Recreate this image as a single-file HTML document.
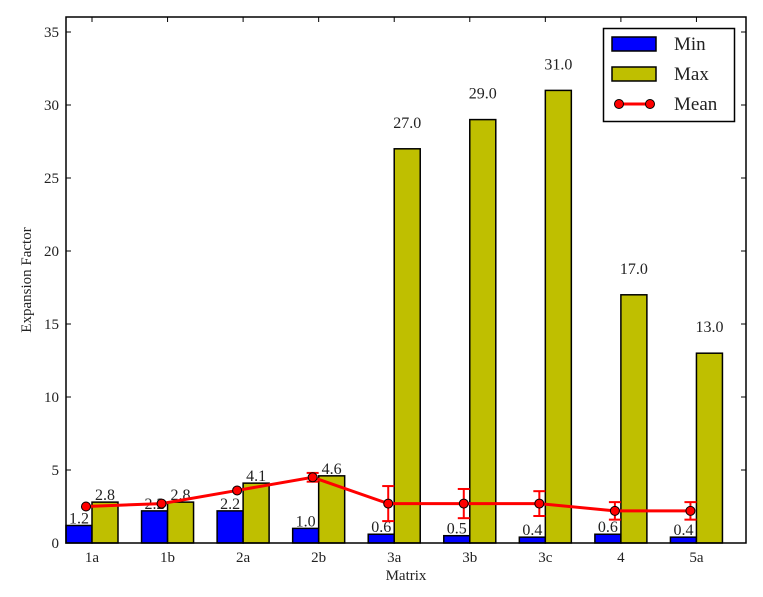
<!DOCTYPE html>
<html><head><meta charset="utf-8"><style>
body{margin:0;background:#fff}
svg text{font-family:"Liberation Serif",serif;fill:#222}
</style></head><body>
<svg id="chart" width="763" height="592" xmlns="http://www.w3.org/2000/svg"></svg>
<script>
const categories=["1a","1b","2a","2b","3a","3b","3c","4","5a"];
const minVals=[1.2,2.2,2.2,1.0,0.6,0.5,0.4,0.6,0.4];
const maxVals=[2.8,2.8,4.1,4.6,27.0,29.0,31.0,17.0,13.0];
const meanVals=[2.5,2.7,3.6,4.5,2.7,2.7,2.7,2.2,2.2];
const meanErr=[0,0,0,0.3,1.2,1.0,0.85,0.6,0.6];
const yTicks=[0,5,10,15,20,25,30,35];

const NS="http://www.w3.org/2000/svg";
const svg=document.getElementById('chart');
const L=66,R=746,T=17,B=543;
const gw=(R-L)/categories.length, bw=26;
const y=v=>B-v*(B-32)/35;
const gx=i=>L+i*gw;
function el(t,a,p){const e=document.createElementNS(NS,t);for(const k in a)e.setAttribute(k,a[k]);(p||svg).appendChild(e);return e;}

const g=el('g',{});


categories.forEach((c,i)=>{
  const x0=gx(i);
  const b1=el('rect',{x:x0,y:y(minVals[i]),width:bw,height:B-y(minVals[i]),fill:'#0000ff',stroke:'#000','stroke-width':1.5},g);
  
  
  const b2=el('rect',{x:x0+bw,y:y(maxVals[i]),width:bw,height:B-y(maxVals[i]),fill:'#bfbf00',stroke:'#000','stroke-width':1.5},g);
  
  
  const t1=el('text',{x:x0+bw/2,y:y(minVals[i])-2,'text-anchor':'middle','font-size':16},g);
  t1.textContent=minVals[i].toFixed(1);
  
  
  const big=maxVals[i]>10;
  const t2=el('text',{x:x0+bw*1.5,y:y(maxVals[i])-(big?21:2),'text-anchor':'middle','font-size':16},g);
  t2.textContent=maxVals[i].toFixed(1);
  
  
});
const mx=i=>gx(i)+bw-6;
const pts=meanVals.map((v,i)=>mx(i)+','+y(v)).join(' ');
const pl=el('polyline',{points:pts,fill:'none',stroke:'#ff0000','stroke-width':3},g);


meanVals.forEach((v,i)=>{
  if(meanErr[i]>0){
    const e=el('g',{stroke:'#ff0000','stroke-width':2},g);
    
    
    el('line',{x1:mx(i),x2:mx(i),y1:y(v+meanErr[i]),y2:y(v-meanErr[i])},e);
    el('line',{x1:mx(i)-6,x2:mx(i)+6,y1:y(v+meanErr[i]),y2:y(v+meanErr[i])},e);
    el('line',{x1:mx(i)-6,x2:mx(i)+6,y1:y(v-meanErr[i]),y2:y(v-meanErr[i])},e);
  }
  const c=el('circle',{cx:mx(i),cy:y(v),r:4.5,fill:'#ff0000',stroke:'#000','stroke-width':1},g);
  
  
});
const fr=el('rect',{x:L,y:T,width:R-L,height:B-T,fill:'none',stroke:'#000','stroke-width':1.5});


yTicks.forEach(v=>{
  el('line',{x1:L,x2:L+5,y1:y(v),y2:y(v),stroke:'#000'});
  el('line',{x1:R,x2:R-5,y1:y(v),y2:y(v),stroke:'#000'});
  const t=el('text',{x:L-7,y:y(v)+5,'text-anchor':'end','font-size':15});
  t.textContent=v;
  
  
});
categories.forEach((c,i)=>{
  const x=gx(i)+bw;
  el('line',{x1:x,x2:x,y1:B,y2:B-5,stroke:'#000'});
  el('line',{x1:x,x2:x,y1:T,y2:T+5,stroke:'#000'});
  const t=el('text',{x:x,y:B+19,'text-anchor':'middle','font-size':15});
  t.textContent=c;
  
  
});
const xt=el('text',{x:406,y:580,'text-anchor':'middle','font-size':15});
xt.textContent='Matrix';


const yt=el('text',{x:0,y:0,'text-anchor':'middle','font-size':15,transform:'translate(31,280) rotate(-90)'});
yt.textContent='Expansion Factor';


const lg=el('g',{});


el('rect',{x:603.5,y:28.5,width:131,height:93,fill:'#fff',stroke:'#000','stroke-width':1.5},lg);
const le=[['Min','#0000ff'],['Max','#bfbf00']];
le.forEach((d,k)=>{
  const yy=44+k*30;
  el('rect',{x:612,y:yy-7,width:44,height:14,fill:d[1],stroke:'#000','stroke-width':1.5},lg);
  const t=el('text',{x:674,y:yy+6,'font-size':19},lg);
  t.textContent=d[0];
  
  
});
el('line',{x1:619,x2:650,y1:104,y2:104,stroke:'#ff0000','stroke-width':3},lg);
el('circle',{cx:619,cy:104,r:4.5,fill:'#ff0000',stroke:'#000'},lg);
el('circle',{cx:650,cy:104,r:4.5,fill:'#ff0000',stroke:'#000'},lg);
const tm=el('text',{x:674,y:110,'font-size':19},lg);
tm.textContent='Mean';


</script>
</body></html>
